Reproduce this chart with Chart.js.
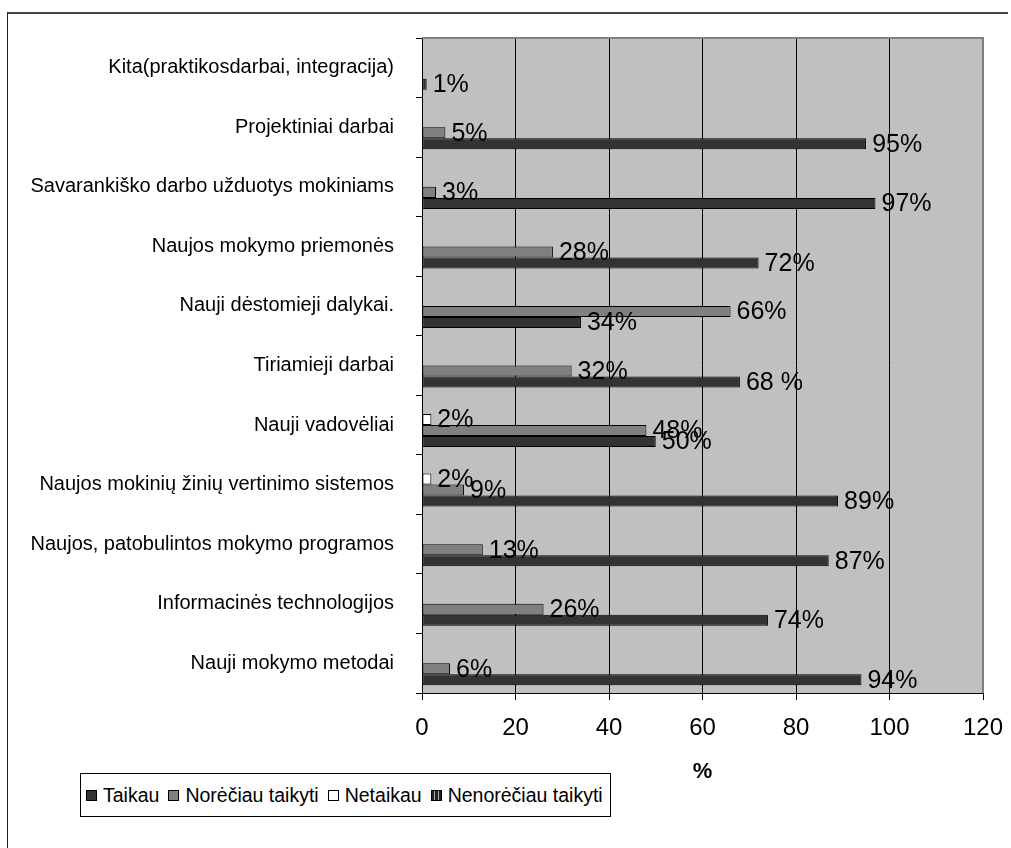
<!DOCTYPE html>
<html>
<head>
<meta charset="utf-8">
<script src="https://cdn.jsdelivr.net/npm/chart.js@4.4.1/dist/chart.umd.min.js"></script>
<style>
  html, body { margin: 0; padding: 0; background: #fff; }
  #wrap { position: relative; width: 1011px; height: 848px; overflow: hidden; font-family: 'Liberation Sans', Arial, sans-serif; }
  #frame { position: absolute; left: 7px; top: 12px; width: 1000px; height: 900px; border-top: 2px solid #444; border-left: 1px solid #222; }
  #chartBox { position: absolute; left: 0; top: 0; width: 1011px; height: 848px; }
  #legend { position: absolute; left: 80px; top: 773px; width: 531px; height: 44px; border: 1px solid #000; background: #fff;
            display: flex; align-items: center; font-size: 19.5px; color: #000; box-sizing: border-box; padding-left: 5px; }
  .item { display: flex; align-items: center; margin-right: 9px; white-space: nowrap; }
  .sw { width: 9px; height: 9px; border: 1px solid #000; margin-right: 6px; }
</style>
</head>
<body>
<div id="wrap">
  <div id="frame"></div>
  <div id="chartBox"><canvas id="c"></canvas></div>
  <div id="legend"></div>
</div>
<script>
// ---- data ----
const categories = [
  'Kita(praktikosdarbai, integracija)',
  'Projektiniai darbai',
  'Savarankiško darbo užduotys mokiniams',
  'Naujos mokymo priemonės',
  'Nauji dėstomieji dalykai.',
  'Tiriamieji darbai',
  'Nauji vadovėliai',
  'Naujos mokinių žinių vertinimo sistemos',
  'Naujos, patobulintos mokymo programos',
  'Informacinės technologijos',
  'Nauji mokymo metodai'
];
const seriesNames = ['Taikau', 'Norėčiau taikyti', 'Netaikau', 'Nenorėčiau taikyti'];
const taikau      = [1, 95, 97, 72, 34, 68, 50, 89, 87, 74, 94];
const noreciau    = [null, 5, 3, 28, 66, 32, 48, 9, 13, 26, 6];
const netaikau    = [null, null, null, null, null, null, 2, 2, null, null, null];
const nenoreciau  = [null, null, null, null, null, null, null, null, null, null, null];
const taikauLabels   = ['1%', '95%', '97%', '72%', '34%', '68 %', '50%', '89%', '87%', '74%', '94%'];
const noreciauLabels = [null, '5%', '3%', '28%', '66%', '32%', '48%', '9%', '13%', '26%', '6%'];
const netaikauLabels = [null, null, null, null, null, null, '2%', '2%', null, null, null];
const nenoreciauLabels = [null, null, null, null, null, null, null, null, null, null, null];
const xMin = 0, xMax = 120, xStep = 20;
const axisTitle = '%';

// ---- styles ----
const FONT = "'Liberation Sans', Arial, sans-serif";
const colors = ['#333333', '#808080', '#ffffff', '#555555'];

function stripePattern() {
  const c = document.createElement('canvas');
  c.width = 4; c.height = 4;
  const g = c.getContext('2d');
  g.fillStyle = '#222'; g.fillRect(0, 0, 4, 4);
  g.fillStyle = '#aaa'; g.fillRect(2, 0, 1, 4);
  return g.createPattern(c, 'repeat');
}

// legend (HTML)
const legendEl = document.getElementById('legend');
const swatchCss = [
  'background:#333333',
  'background:#808080',
  'background:#ffffff',
  'background:repeating-linear-gradient(90deg,#222 0 2px,#aaa 2px 3px,#222 3px 4px)'
];
seriesNames.forEach((n, i) => {
  const it = document.createElement('div');
  it.className = 'item';
  it.innerHTML = '<span class="sw" style="' + swatchCss[i] + '"></span><span>' + n + '</span>';
  legendEl.appendChild(it);
});

// Chart.js puts dataset 0 at the top of each band; Taikau must be at the bottom
const datasets = [
  { label: seriesNames[3], data: nenoreciau, backgroundColor: stripePattern(), labels: nenoreciauLabels },
  { label: seriesNames[2], data: netaikau, backgroundColor: colors[2], labels: netaikauLabels },
  { label: seriesNames[1], data: noreciau, backgroundColor: colors[1], labels: noreciauLabels },
  { label: seriesNames[0], data: taikau, backgroundColor: colors[0], labels: taikauLabels }
].map(d => Object.assign(d, {
  borderColor: '#000', borderWidth: 1, borderSkipped: false,
  barPercentage: 1.0, categoryPercentage: 0.74
}));

const plotBg = {
  id: 'plotBg',
  beforeDraw(chart) {
    const { ctx, chartArea: a } = chart;
    ctx.save();
    ctx.fillStyle = '#c0c0c0';
    ctx.fillRect(a.left, a.top, a.right - a.left, a.bottom - a.top);
    ctx.restore();
  },
  afterDatasetsDraw(chart) {
    const { ctx, chartArea: a } = chart;
    ctx.save();
    ctx.strokeStyle = '#808080';
    ctx.lineWidth = 2;
    ctx.beginPath();
    ctx.moveTo(a.left, a.top);
    ctx.lineTo(a.right, a.top);
    ctx.lineTo(a.right, a.bottom);
    ctx.stroke();
    ctx.restore();
  }
};

const dataLabels = {
  id: 'dataLabels',
  afterDatasetsDraw(chart) {
    const ctx = chart.ctx;
    ctx.save();
    ctx.font = '25px ' + FONT;
    ctx.fillStyle = '#000';
    ctx.textAlign = 'left';
    ctx.textBaseline = 'middle';
    chart.data.datasets.forEach((ds, di) => {
      const meta = chart.getDatasetMeta(di);
      meta.data.forEach((el, i) => {
        if (ds.data[i] == null || ds.labels[i] == null) return;
        ctx.fillText(ds.labels[i], el.x + 6, el.y + 1);
      });
    });
    ctx.restore();
  }
};

new Chart(document.getElementById('c'), {
  type: 'bar',
  data: { labels: categories, datasets },
  options: {
    indexAxis: 'y',
    responsive: true,
    maintainAspectRatio: false,
    animation: false,
    layout: { padding: { left: 0, top: 38, right: 28, bottom: 0 } },
    plugins: { legend: { display: false }, tooltip: { enabled: false } },
    scales: {
      x: {
        min: xMin, max: xMax,
        ticks: { stepSize: xStep, color: '#000', font: { family: FONT, size: 24 }, padding: 14 },
        grid: { color: '#000', lineWidth: 1, tickLength: 7, drawOnChartArea: true },
        border: { color: '#000', width: 1 },
        title: { display: true, text: axisTitle, color: '#000', font: { family: FONT, size: 22, weight: 'bold' }, padding: { top: 0, bottom: 63 } },
        afterFit(s) { s.height = 155; s.paddingRight = 0; s.paddingLeft = 0; }
      },
      y: {
        ticks: { color: '#000', font: { family: FONT, size: 20 }, padding: 22 },
        grid: { color: '#000', lineWidth: 1, tickLength: 6, drawOnChartArea: false, offset: true },
        border: { color: '#000', width: 1 },
        afterFit(s) { s.width = 422; s.paddingTop = 0; s.paddingBottom = 0; }
      }
    }
  },
  plugins: [plotBg, dataLabels]
});
</script>
</body>
</html>
